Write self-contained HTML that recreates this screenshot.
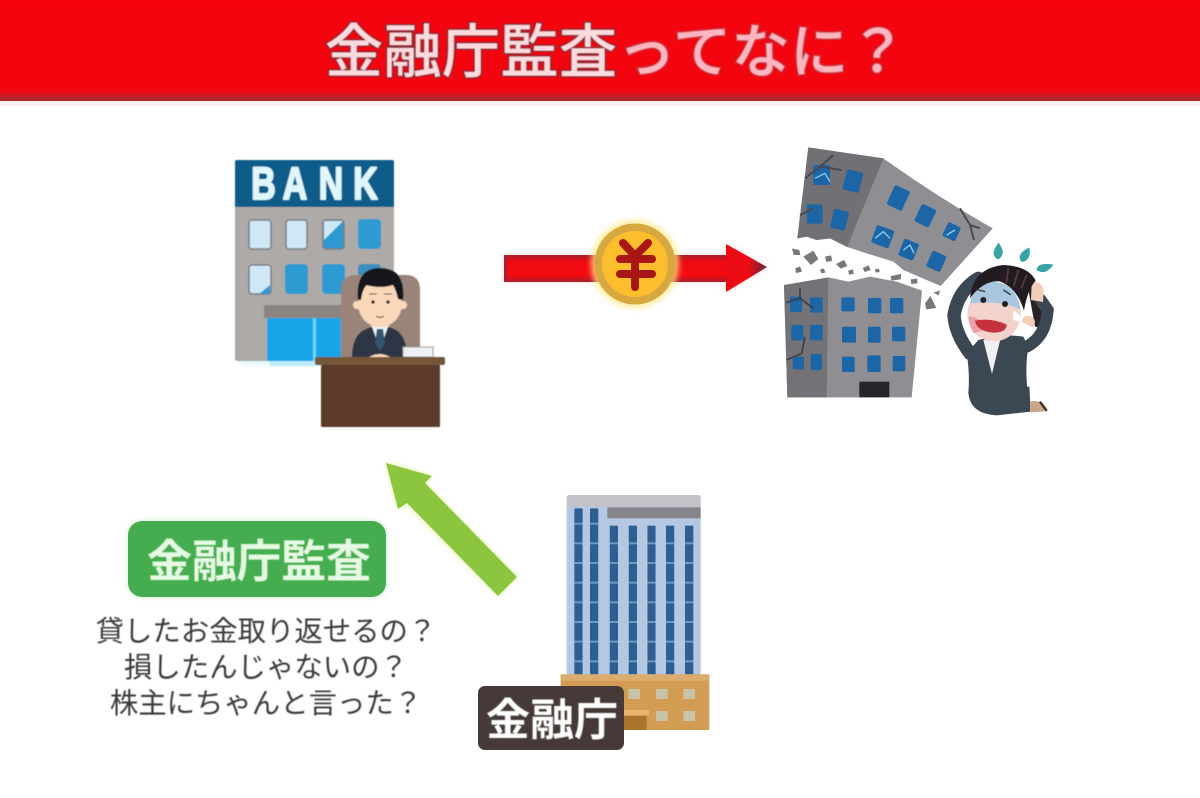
<!DOCTYPE html>
<html lang="ja"><head><meta charset="utf-8"><title>金融庁監査ってなに？</title>
<style>
html,body{margin:0;padding:0;background:#fff;width:1200px;height:798px;overflow:hidden}
svg{display:block}
text{font-family:"Liberation Sans","Noto Sans CJK JP",sans-serif}
</style></head><body>
<svg width="1200" height="798" viewBox="0 0 1200 798" xmlns="http://www.w3.org/2000/svg">
<defs>
<filter id="gy" x="-20%" y="-20%" width="140%" height="140%"><feGaussianBlur stdDeviation="3"/></filter>
<filter id="s1"><feGaussianBlur stdDeviation="0.6"/></filter>
<filter id="s2" x="-5%" y="-5%" width="110%" height="110%"><feGaussianBlur stdDeviation="0.4"/></filter>
<linearGradient id="hd" x1="0" y1="0" x2="0" y2="1"><stop offset="0" stop-color="#f5040f"/><stop offset=".9" stop-color="#f2050f"/><stop offset=".97" stop-color="#b5252b"/><stop offset="1" stop-color="#a52a2e"/></linearGradient>
<linearGradient id="sh" x1="0" y1="0" x2="0" y2="1"><stop offset="0" stop-color="#a8202c"/><stop offset=".25" stop-color="#ee0a12"/><stop offset=".75" stop-color="#f50a10"/><stop offset="1" stop-color="#a8202c"/></linearGradient>
<linearGradient id="ar" x1="0" y1="0" x2="1" y2="0"><stop offset="0" stop-color="#e90a14"/><stop offset=".55" stop-color="#ee0c14"/><stop offset="1" stop-color="#5c2a38"/></linearGradient>
</defs>

<!-- header -->
<rect x="0" y="101" width="1200" height="5" fill="#fdeeee"/>
<rect x="0" y="0" width="1200" height="101" fill="url(#hd)"/>
<text x="325" y="72" font-size="58" font-weight="500" letter-spacing=".5" fill="#fcdadd" stroke="#8f2a36" stroke-width="3" paint-order="stroke" filter="url(#s2)">金融庁監査<tspan fill="#fdb6c0" stroke="#c8323c">ってなに？</tspan></text>

<!-- bank -->
<g filter="url(#s1)">
<rect x="240" y="164" width="150" height="200" fill="#aee8f8" filter="url(#gy)" opacity=".45"/>
<rect x="235" y="160" width="159" height="201" rx="2" fill="#aeaaa8"/>
<path d="M235 207V162q0-2 2-2h155q2 0 2 2v45z" fill="#0f5b8a"/>
<text transform="translate(0 199) scale(.75 1)" x="335 377 425 471" font-size="45" font-weight="700" fill="#dff6fb" stroke="#dff6fb" stroke-width="2" stroke-linejoin="round" style="font-family:'Liberation Sans',sans-serif">BANK</text>
<g stroke="#777b80" stroke-width="1.5">
<rect x="249" y="220" width="22" height="29" rx="3" fill="#cfe8f6"/>
<rect x="286" y="220" width="21" height="29" rx="3" fill="#cfe8f6"/>
<rect x="323" y="220" width="21" height="29" rx="3" fill="#2f9ad2"/>
<rect x="249" y="265" width="22" height="29" rx="3" fill="#cfe8f6"/>
</g>
<path d="M324 240V221h19z" fill="#cfe8f6"/>
<path d="M259 294l11-9v9z" fill="#2f9ad2"/>
<rect x="358" y="219" width="23" height="30" rx="4" fill="#2f9ad2"/>
<rect x="285" y="264" width="23" height="30" rx="4" fill="#2f9ad2"/>
<rect x="322" y="264" width="23" height="30" rx="4" fill="#2f9ad2"/>
<rect x="358" y="264" width="23" height="30" rx="4" fill="#3a8fbe"/>
<rect x="264" y="305" width="80" height="13" fill="#8b8581"/>
<rect x="267" y="318" width="77" height="43" fill="#14a5e8"/>
<rect x="313" y="318" width="3" height="43" fill="#6fd6f5"/>
<rect x="270" y="361" width="72" height="5" fill="#9fe3f8" opacity=".6"/>
<path d="M341 290q0-15 15-15h50q14 0 14 15v67h-79z" fill="#9a8479"/>
<path d="M352 357q0-22 14-28l14-6 14 6q13 6 13 28z" fill="#2d3444"/>
<path d="M372 327h16l-8 22z" fill="#e9f2f6"/>
<path d="M377 329h6l2 14-5 8-5-8z" fill="#33566e"/>
<rect x="371" y="316" width="18" height="11" fill="#fad7b8"/>
<circle cx="357" cy="305" r="4" fill="#fad7b8"/><circle cx="403" cy="305" r="4" fill="#fad7b8"/>
<ellipse cx="380" cy="304" rx="22" ry="23" fill="#fad7b8"/>
<path d="M358 300q-3-32 22-32 26 0 23 32l-5-1q-2-9-5-14-12 4-27 0-4 6-5 15z" fill="#15161a"/>
<circle cx="373" cy="302" r="1.7" fill="#222"/><circle cx="388" cy="302" r="1.7" fill="#222"/>
<path d="M369 294h8M384 294h8M376 316q4 3 8 0" stroke="#333" fill="none" stroke-width="1"/>
<rect x="403" y="347" width="30" height="10" fill="#eef1f3" stroke="#999" stroke-width="1"/>
<path d="M369 357q11-6 21 0z" fill="#fad7b8"/>
<rect x="315" y="357" width="130" height="8" rx="2" fill="#745639"/>
<rect x="321" y="365" width="119" height="62" rx="1" fill="#5c3b2b"/>
</g>

<!-- red arrow + coin -->
<g>
<path d="M504 255H726V244L767 267 726 292V282H504z" fill="#ffb9b9" filter="url(#gy)" opacity=".6"/>
<rect x="504" y="255" width="224" height="27" fill="url(#sh)"/>
<rect x="504" y="255" width="3" height="27" fill="#a8202c"/>
<path d="M726 244L767 267 726 292z" fill="url(#ar)"/>
<circle cx="635" cy="264" r="44" fill="#ffe98a" filter="url(#gy)" opacity=".8"/>
<circle cx="635" cy="264" r="40.5" fill="#d7a83f"/>
<circle cx="635" cy="264" r="33" fill="#fdbe2e"/>
<path d="M623 243l12 13 13-13M635 256v31M620 259h32M620 274h32" fill="none" stroke="#a81616" stroke-width="8" stroke-linecap="round" stroke-linejoin="round"/>
</g>

<!-- collapsing building + woman -->
<g transform="translate(770 140) scale(.33333)" filter="url(#s1)">
<path d="M115 22L340 55Q500 170 668 265L512 438 400 390 370 365 290 340 228 320 180 295 140 300 110 290 82 295z" fill="#8f8f93"/>
<path d="M115 22L340 55 232 320 180 295 140 300 110 290 82 295z" fill="#6f7075"/>
<g fill="#1f65a6">
<rect x="130" y="75" width="50" height="60" rx="5"/>
<rect x="224" y="92" width="50" height="62" rx="6" transform="rotate(14 248 122)"/>
<rect x="110" y="193" width="48" height="58" rx="6"/>
<rect x="186" y="210" width="46" height="58" rx="6" transform="rotate(14 208 238)"/>
<rect x="360" y="142" width="50" height="64" rx="6" transform="rotate(24 385 174)"/>
<rect x="442" y="198" width="48" height="58" rx="6" transform="rotate(26 466 227)"/>
<rect x="524" y="252" width="42" height="46" rx="6" transform="rotate(26 545 275)"/>
<rect x="310" y="262" width="56" height="56" rx="6" transform="rotate(20 338 290)"/>
<rect x="392" y="302" width="48" height="54" rx="6" transform="rotate(22 416 329)"/>
<rect x="476" y="338" width="46" height="52" rx="6" transform="rotate(24 499 364)"/>
</g>
<path d="M105 115L150 80 190 45M150 80L215 90M90 225L130 205M570 205L600 255 630 265M600 255L612 300" fill="none" stroke="#4a4a50" stroke-width="6"/>
<path d="M135 115l30-15 15 25M315 295l25-20 20 20M400 330l20-15 12 25M530 285l25-15" fill="none" stroke="#8fd0f0" stroke-width="4"/>
<path d="M42 435L110 425 175 412 235 425 300 410 380 425 456 452 425 772H52z" fill="#8f8f93"/>
<path d="M42 435L175 412 170 772H52z" fill="#727277"/>
<g fill="#1f65a6">
<rect x="60" y="470" width="36" height="46" rx="5"/><rect x="120" y="472" width="38" height="46" rx="5"/>
<rect x="214" y="472" width="40" height="42" rx="5"/><rect x="294" y="474" width="40" height="46" rx="5"/><rect x="360" y="474" width="40" height="46" rx="5"/>
<rect x="64" y="555" width="36" height="46" rx="5"/><rect x="120" y="555" width="38" height="46" rx="5"/>
<rect x="216" y="560" width="42" height="48" rx="5"/><rect x="294" y="560" width="38" height="48" rx="5"/><rect x="366" y="560" width="40" height="44" rx="5"/>
<rect x="68" y="650" width="34" height="38" rx="5"/><rect x="122" y="642" width="34" height="48" rx="5"/>
<rect x="216" y="650" width="38" height="46" rx="5"/><rect x="292" y="646" width="40" height="50" rx="5"/><rect x="368" y="648" width="38" height="46" rx="5"/>
</g>
<path d="M48 488L90 475 130 505M90 445v30M50 660L95 640 105 590" fill="none" stroke="#3d3d44" stroke-width="5"/>
<rect x="268" y="725" width="90" height="47" fill="#26262b"/>
<g fill="#77777c">
<path d="M66 325l22 5 3 15-20 0z"/><path d="M100 350l30-18 15 25-22 18z"/><path d="M165 350l18-4 4 16-18 4z"/><path d="M198 372l24-12 10 18-20 8z"/><path d="M76 385l14-6 6 16-18 4z"/><path d="M150 388l12-2 4 12-12 2z"/><path d="M235 392l14-4 2 14-14 2z"/><path d="M278 384l18-8 6 14-18 6z"/><path d="M315 388l12-2 2 10-12 2z"/><path d="M362 408l32-6-2 16-28 4z"/><path d="M422 418l20-2 0 14-18 2z"/><path d="M465 490l16-22 18 36-30 4z"/><path d="M490 458l20-6-4 14z"/>
</g>
<g fill="#37a4a6">
<path d="M686 308q14 20 12 32t-14 18q-12-6-13-18t15-32z"/>
<path d="M778 322q4 18-2 30t-20 14q-10-8-6-20t28-24z"/>
<path d="M850 374q-8 14-22 20t-28-4q0-12 14-16t36-0z"/>
</g>
<!-- woman -->
<path d="M770 420Q815 440 835 490 860 530 835 570L795 560z" fill="#2a2025"/>
<path d="M595 755Q598 822 680 826L782 815 778 740z" fill="#3b4652"/>
<path d="M780 785q30-10 50 20l-10 10-40 2z" fill="#caa78c"/>
<path d="M810 785l20 28" stroke="#3a2a2a" stroke-width="7" fill="none"/>
<path d="M625 600L590 640Q600 700 595 760L772 745Q765 680 775 620L760 590Q700 580 625 600z" fill="#3b4652"/>
<path d="M640 600L692 594 666 702z" fill="#eef0f4"/>
<path d="M600 640Q555 580 552 525 565 450 625 415" fill="none" stroke="#3b4652" stroke-width="40" stroke-linecap="round"/>
<path d="M770 620Q828 590 833 510L812 480" fill="none" stroke="#3b4652" stroke-width="36" stroke-linecap="round"/>
<path d="M785 428q30-8 36 24l-2 34-36-6z" fill="#f3cdb8"/>
<ellipse cx="672" cy="522" rx="80" ry="82" fill="#f3d3cc"/>
<path d="M600 490Q610 430 670 425 740 430 752 510 700 480 600 490z" fill="#a8c7df"/>
<path d="M596 530a42 42 0 0 1 46 40l-30 10q-14-22-16-50z" fill="#ee9ea6"/>
<path d="M755 545a20 20 0 1 1 32 18z" fill="#f3cdb8"/>
<path d="M600 475Q608 385 700 375 775 378 797 422 772 450 762 512 742 445 690 424 640 420 600 475z" fill="#241c20"/>
<path d="M715 385l-6 45M745 390l-14 50M770 405l-16 40" stroke="#5a3e3e" stroke-width="5"/>
<circle cx="640" cy="480" r="9" fill="#222"/><circle cx="705" cy="492" r="9" fill="#222"/>
<path d="M615 447l30 8M700 450l22 14" stroke="#333" stroke-width="4" fill="none"/>
<path d="M615 542q50-10 95 12 0 24-40 24-50-4-55-36z" fill="#c4323e"/>
<path d="M732 510q16 14 24 30-16 10-28-4z" fill="#fff"/>
</g>

<!-- green arrow -->
<path d="M386 462L432 476 425 483 517 577 498 596 405 503 398 510z" fill="#dcf7a0" filter="url(#gy)" opacity=".8"/>
<path d="M386 463L432 476 425 483 517 577 498 596 407 503 398 509z" fill="#8cc63f"/>

<!-- badge -->
<rect x="128" y="521" width="258" height="76" rx="14" fill="#b9ecb9" filter="url(#gy)" opacity=".8"/>
<rect x="128" y="521" width="258" height="76" rx="14" fill="#45ad4f"/>
<text x="147" y="577" font-size="45" font-weight="700" textLength="224" lengthAdjust="spacing" fill="#e6f9e2" filter="url(#s2)">金融庁監査</text>

<!-- body text -->
<g font-size="28.4" fill="#3a3a3a" text-anchor="middle" filter="url(#s2)">
<text x="266" y="641">貸したお金取り返せるの？</text>
<text x="266" y="677">損したんじゃないの？</text>
<text x="266" y="713">株主にちゃんと言った？</text>
</g>

<!-- tower -->
<g transform="translate(470 490) scale(.33333)" filter="url(#s1)">
<rect x="290" y="15" width="402" height="545" rx="8" fill="#b4c8e3"/>
<path d="M290 50V23q0-8 8-8h386q8 0 8 8v27z" fill="#c4c2c8"/>
<rect x="412" y="52" width="280" height="33" fill="#85858a"/>
<g fill="#2e5f90">
<rect x="313" y="55" width="25" height="498" rx="3"/><rect x="360" y="55" width="25" height="498" rx="3"/>
<rect x="419" y="107" width="25" height="446"/><rect x="476" y="107" width="25" height="446"/><rect x="532" y="107" width="25" height="446"/><rect x="588" y="107" width="25" height="446"/><rect x="645" y="107" width="25" height="446"/>
</g>
<g fill="#6c9ac6">
<rect x="313" y="98" width="72" height="6"/><rect x="313" y="157" width="357" height="6"/><rect x="313" y="216" width="357" height="6"/><rect x="313" y="275" width="357" height="6"/><rect x="313" y="334" width="357" height="6"/><rect x="313" y="393" width="357" height="6"/><rect x="313" y="452" width="357" height="6"/><rect x="313" y="511" width="357" height="6"/>
</g>
<g fill="#b4c8e3"><rect x="338" y="95" width="22" height="430"/><rect x="385" y="95" width="34" height="430"/><rect x="444" y="107" width="32" height="418"/><rect x="501" y="107" width="31" height="418"/><rect x="557" y="107" width="31" height="418"/><rect x="613" y="107" width="32" height="418"/></g>
<rect x="272" y="553" width="446" height="167" rx="4" fill="#d29c55"/>
<rect x="272" y="553" width="446" height="19" fill="#dcab6e"/>
<g fill="#c9c3a8">
<rect x="475" y="597" width="35" height="30"/><rect x="558" y="597" width="35" height="30"/><rect x="640" y="597" width="35" height="30"/>
<rect x="558" y="663" width="35" height="30"/><rect x="640" y="663" width="35" height="30"/>
</g>
<rect x="440" y="660" width="98" height="15" fill="#eab46f"/>
<rect x="440" y="678" width="90" height="42" fill="#a9752d"/>
</g>
<rect x="478" y="686" width="146" height="64" rx="7" fill="#453a38"/>
<text x="486" y="735" font-size="44" font-weight="700" textLength="132" lengthAdjust="spacing" fill="#fff" filter="url(#s2)">金融庁</text>
</svg>
</body></html>
